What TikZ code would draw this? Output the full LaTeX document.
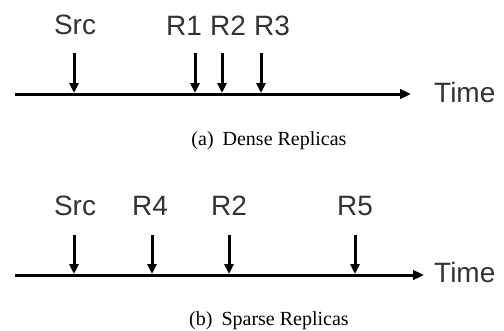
\documentclass[tikz,border=0pt]{standalone}
\usepackage{fontspec}
\setmainfont{Liberation Serif}
\setsansfont{Liberation Sans}
\usetikzlibrary{arrows.meta}
\begin{document}
\begin{tikzpicture}[x=1pt,y=-1pt,
  lbl/.style={font=\sffamily\fontsize{28}{28}\selectfont, text=black!80, inner sep=0pt, anchor=base},
  timelbl/.style={font=\sffamily\fontsize{28}{28}\selectfont, text=black!80, inner sep=0pt, anchor=base west},
  captext/.style={font=\fontsize{20}{20}\selectfont, inner sep=0pt, anchor=base},
  tickarr/.style={line width=3pt, -{Triangle[length=10pt,width=9pt]}},
  axisarr/.style={line width=3pt, -{Triangle[length=11pt,width=9.5pt]}},
]
\useasboundingbox (0,0) rectangle (504,330);

% ---------- (a) Dense Replicas ----------
\coordinate (aL) at (15,94);
\coordinate (aR) at (411,94);
\draw[axisarr] (aL) -- (aR);
\node[timelbl] (aTime) at (434,102) {Time};

\node[lbl] (aSrc) at (75,34) {Src};
\node[lbl] (aR1) at (184,35) {R1};
\node[lbl] (aR2) at (228,35) {R2};
\node[lbl] (aR3) at (272,35) {R3};

\coordinate (aSrcT) at (74,53);  \coordinate (aSrcB) at (74,93);
\coordinate (aR1T) at (195,53);  \coordinate (aR1B) at (195,93);
\coordinate (aR2T) at (222,53);  \coordinate (aR2B) at (222,93);
\coordinate (aR3T) at (261,53);  \coordinate (aR3B) at (261,93);
\draw[tickarr] (aSrcT) -- (aSrcB);
\draw[tickarr] (aR1T) -- (aR1B);
\draw[tickarr] (aR2T) -- (aR2B);
\draw[tickarr] (aR3T) -- (aR3B);

\node[captext] (capA) at (269,145) {(a)\hspace{0.45em}Dense Replicas};

% ---------- (b) Sparse Replicas ----------
\coordinate (bL) at (15,275);
\coordinate (bR) at (424,275);
\draw[axisarr] (bL) -- (bR);
\node[timelbl] (bTime) at (434,282) {Time};

\node[lbl] (bSrc) at (75,215) {Src};
\node[lbl] (bR4) at (150,215) {R4};
\node[lbl] (bR2) at (229,215) {R2};
\node[lbl] (bR5) at (355,215) {R5};

\coordinate (bSrcT) at (74,235); \coordinate (bSrcB) at (74,274);
\coordinate (bR4T) at (152,235); \coordinate (bR4B) at (152,274);
\coordinate (bR2T) at (229,235); \coordinate (bR2B) at (229,274);
\coordinate (bR5T) at (355,235); \coordinate (bR5B) at (355,274);
\draw[tickarr] (bSrcT) -- (bSrcB);
\draw[tickarr] (bR4T) -- (bR4B);
\draw[tickarr] (bR2T) -- (bR2B);
\draw[tickarr] (bR5T) -- (bR5B);

\node[captext] (capB) at (269,325) {(b)\hspace{0.45em}Sparse Replicas};
\end{tikzpicture}
\end{document}
